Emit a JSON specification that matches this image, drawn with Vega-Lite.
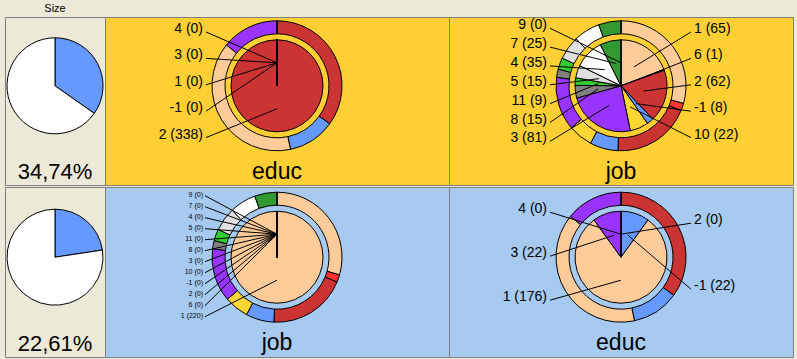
{
  "$schema": "https://vega.github.io/schema/vega-lite/v6.json",
  "background": "#ECE9D8",
  "padding": {"left": 4, "right": 5, "top": 0, "bottom": 2},
  "config": {"view": {"stroke": "#7F7F7F", "strokeWidth": 1}, "concat": {"spacing": 0}, "text": {"font": "Liberation Sans", "color": "black"}},
  "datasets": {
    "size": [
      {"cluster": 1, "part": "in", "ord": 0, "share": 34.74},
      {"cluster": 1, "part": "out", "ord": 1, "share": 65.26},
      {"cluster": 2, "part": "in", "ord": 0, "share": 22.61},
      {"cluster": 2, "part": "out", "ord": 1, "share": 77.39}
    ],
    "overall": [
      {"var": "educ", "cat": "2", "ord": 0, "n": 340},
      {"var": "educ", "cat": "-1", "ord": 1, "n": 114},
      {"var": "educ", "cat": "1", "ord": 2, "n": 381},
      {"var": "educ", "cat": "3", "ord": 3, "n": 138},
      {"var": "educ", "cat": "4", "ord": 4, "n": 0},
      {"var": "job", "cat": "1", "ord": 0, "n": 286},
      {"var": "job", "cat": "6", "ord": 1, "n": 18},
      {"var": "job", "cat": "2", "ord": 2, "n": 190},
      {"var": "job", "cat": "-1", "ord": 3, "n": 68},
      {"var": "job", "cat": "10", "ord": 4, "n": 59},
      {"var": "job", "cat": "3", "ord": 5, "n": 129},
      {"var": "job", "cat": "8", "ord": 6, "n": 20},
      {"var": "job", "cat": "11", "ord": 7, "n": 28},
      {"var": "job", "cat": "5", "ord": 8, "n": 57},
      {"var": "job", "cat": "4", "ord": 9, "n": 64},
      {"var": "job", "cat": "7", "ord": 10, "n": 54},
      {"var": "job", "cat": "9", "ord": 11, "n": 0}
    ],
    "cluster": [
      {"cluster": 1, "var": "educ", "cat": "2", "ord": 0, "n": 338},
      {"cluster": 1, "var": "educ", "cat": "-1", "ord": 1, "n": 0},
      {"cluster": 1, "var": "educ", "cat": "1", "ord": 2, "n": 0},
      {"cluster": 1, "var": "educ", "cat": "3", "ord": 3, "n": 0},
      {"cluster": 1, "var": "educ", "cat": "4", "ord": 4, "n": 0},
      {"cluster": 1, "var": "job", "cat": "1", "ord": 0, "n": 65},
      {"cluster": 1, "var": "job", "cat": "6", "ord": 1, "n": 1},
      {"cluster": 1, "var": "job", "cat": "2", "ord": 2, "n": 62},
      {"cluster": 1, "var": "job", "cat": "-1", "ord": 3, "n": 8},
      {"cluster": 1, "var": "job", "cat": "10", "ord": 4, "n": 22},
      {"cluster": 1, "var": "job", "cat": "3", "ord": 5, "n": 81},
      {"cluster": 1, "var": "job", "cat": "8", "ord": 6, "n": 15},
      {"cluster": 1, "var": "job", "cat": "11", "ord": 7, "n": 9},
      {"cluster": 1, "var": "job", "cat": "5", "ord": 8, "n": 15},
      {"cluster": 1, "var": "job", "cat": "4", "ord": 9, "n": 35},
      {"cluster": 1, "var": "job", "cat": "7", "ord": 10, "n": 25},
      {"cluster": 1, "var": "job", "cat": "9", "ord": 11, "n": 0},
      {"cluster": 2, "var": "educ", "cat": "2", "ord": 0, "n": 0},
      {"cluster": 2, "var": "educ", "cat": "-1", "ord": 1, "n": 22},
      {"cluster": 2, "var": "educ", "cat": "1", "ord": 2, "n": 176},
      {"cluster": 2, "var": "educ", "cat": "3", "ord": 3, "n": 22},
      {"cluster": 2, "var": "educ", "cat": "4", "ord": 4, "n": 0},
      {"cluster": 2, "var": "job", "cat": "1", "ord": 0, "n": 220},
      {"cluster": 2, "var": "job", "cat": "6", "ord": 1, "n": 0},
      {"cluster": 2, "var": "job", "cat": "2", "ord": 2, "n": 0},
      {"cluster": 2, "var": "job", "cat": "-1", "ord": 3, "n": 0},
      {"cluster": 2, "var": "job", "cat": "10", "ord": 4, "n": 0},
      {"cluster": 2, "var": "job", "cat": "3", "ord": 5, "n": 0},
      {"cluster": 2, "var": "job", "cat": "8", "ord": 6, "n": 0},
      {"cluster": 2, "var": "job", "cat": "11", "ord": 7, "n": 0},
      {"cluster": 2, "var": "job", "cat": "5", "ord": 8, "n": 0},
      {"cluster": 2, "var": "job", "cat": "4", "ord": 9, "n": 0},
      {"cluster": 2, "var": "job", "cat": "7", "ord": 10, "n": 0},
      {"cluster": 2, "var": "job", "cat": "9", "ord": 11, "n": 0}
    ]
  },
  "spacing": 0,
  "resolve": {"scale": {"x": "independent", "y": "independent", "color": "independent", "theta": "independent"}},
  "vconcat": [
    {
      "spacing": 0,
      "bounds": "flush",
      "hconcat": [
        {"width": 100, "height": 16, "view": {"fill": "#ECE9D8"}, "data": {"values": [{"h": "Size"}]}, "mark": {"type": "text", "fontSize": 11, "baseline": "middle", "dy": 1}, "encoding": {"text": {"field": "h"}}},
        {"width": 344, "height": 16, "view": {"fill": "#ECE9D8"}, "data": {"values": []}, "mark": "text", "encoding": {}},
        {"width": 344, "height": 16, "view": {"fill": "#ECE9D8"}, "data": {"values": []}, "mark": "text", "encoding": {}}
      ]
    },
    {
      "spacing": 0,
      "bounds": "flush",
      "resolve": {"scale": {"x": "independent", "y": "independent", "color": "independent", "theta": "independent"}},
      "hconcat": [
        {
          "width": 100, "height": 168, "view": {"fill": "#ECE9D8"},
          "data": {"name": "size"},
          "transform": [{"filter": "datum.cluster == 1"}],
          "layer": [
            {"mark": {"type": "arc", "radius": 48, "stroke": "black", "strokeWidth": 1},
             "encoding": {
               "theta": {"field": "share", "type": "quantitative", "stack": "normalize"},
               "order": {"field": "ord", "type": "quantitative"},
               "color": {"field": "part", "type": "nominal", "scale": {"domain": ["in", "out"], "range": ["#6699FF", "#FFFFFF"]}, "legend": null},
               "x": {"datum": 0, "type": "quantitative", "scale": {"domain": [-50, 50], "nice": false, "zero": false}, "axis": null},
               "y": {"datum": 0, "type": "quantitative", "scale": {"domain": [-99.2, 68.8], "nice": false, "zero": false}, "axis": null}
             }},
            {"transform": [{"filter": "datum.part == 'in'"}, {"calculate": "replace(format(datum.share, '.2f'), '.', ',') + '%'", "as": "pct"}],
             "mark": {"type": "text", "fontSize": 22, "baseline": "alphabetic", "dy": -6},
             "encoding": {
               "text": {"field": "pct"},
               "x": {"datum": 0, "type": "quantitative", "scale": {"domain": [-50, 50], "nice": false, "zero": false}, "axis": null},
               "y": {"value": "height"}
             }}
          ]
        },
        {
          "width": 344, "height": 168, "view": {"fill": "#FFCF33"},
          "layer": [
            {"data": {"name": "overall"}, "transform": [{"filter": "datum.var == 'educ'"}],
             "mark": {"type": "arc", "radius": 65, "radius2": 52, "stroke": "black", "strokeWidth": 1},
             "encoding": {
               "theta": {"field": "n", "type": "quantitative", "stack": "normalize"},
               "order": {"field": "ord", "type": "quantitative"},
               "color": {"field": "cat", "type": "nominal", "scale": {"domain": ["2", "-1", "1", "3", "4"], "range": ["#CC3333", "#6699FF", "#FFCC99", "#9933FF", "#33CC33"]}, "legend": null},
               "x": {"datum": 0, "type": "quantitative", "scale": {"domain": [-172, 172], "nice": false, "zero": false}, "axis": null},
               "y": {"datum": 0, "type": "quantitative", "scale": {"domain": [-99.2, 68.8], "nice": false, "zero": false}, "axis": null}
             }},
            {"data": {"name": "cluster"}, "transform": [{"filter": "datum.cluster == 1 && datum.var == 'educ'"}],
             "mark": {"type": "arc", "radius": 46, "stroke": "black", "strokeWidth": 1},
             "encoding": {
               "theta": {"field": "n", "type": "quantitative", "stack": "normalize"},
               "order": {"field": "ord", "type": "quantitative"},
               "color": {"field": "cat", "type": "nominal", "scale": {"domain": ["2", "-1", "1", "3", "4"], "range": ["#CC3333", "#6699FF", "#FFCC99", "#9933FF", "#33CC33"]}, "legend": null},
               "x": {"datum": 0, "type": "quantitative", "scale": {"domain": [-172, 172], "nice": false, "zero": false}, "axis": null},
               "y": {"datum": 0, "type": "quantitative", "scale": {"domain": [-99.2, 68.8], "nice": false, "zero": false}, "axis": null}
             }},
            {"data": {"name": "cluster"},
             "transform": [
               {"filter": "datum.cluster == 1 && datum.var == 'educ'"},
               {"joinaggregate": [{"op": "sum", "field": "n", "as": "total"}]},
               {"window": [{"op": "sum", "field": "n", "as": "cum"}], "sort": [{"field": "ord", "order": "ascending"}], "frame": [null, 0]},
               {"calculate": "(datum.cum - datum.n / 2) / datum.total", "as": "mid"},
               {"calculate": "23 * sin(2 * PI * datum.mid)", "as": "ax"},
               {"calculate": "23 * cos(2 * PI * datum.mid)", "as": "ay"},
               {"calculate": "datum.mid < 0.5 ? 'R' : 'L'", "as": "side"},
               {"calculate": "datum.side == 'R' ? datum.ord : -datum.ord", "as": "key"},
               {"window": [{"op": "row_number", "as": "rank"}], "sort": [{"field": "key", "order": "ascending"}], "groupby": ["side"]},
               {"joinaggregate": [{"op": "count", "as": "ns"}], "groupby": ["side"]},
               {"calculate": "67 - (datum.rank - 0.5) * 132 / datum.ns", "as": "ly"},
               {"calculate": "datum.side == 'R' ? 70 : -71", "as": "lx"},
               {"calculate": "datum.side == 'R' ? 73 : -74", "as": "tx"},
               {"calculate": "datum.cat + ' (' + datum.n + ')'", "as": "label"}
             ],
             "layer": [
               {"mark": {"type": "rule", "color": "black", "strokeWidth": 1},
                "encoding": {
                  "x": {"field": "lx", "type": "quantitative", "scale": {"domain": [-172, 172], "nice": false, "zero": false}, "axis": null},
                  "y": {"field": "ly", "type": "quantitative", "scale": {"domain": [-99.2, 68.8], "nice": false, "zero": false}, "axis": null},
                  "x2": {"field": "ax"},
                  "y2": {"field": "ay"}
                }},
               {"transform": [{"filter": "datum.side == 'R'"}],
                "mark": {"type": "text", "align": "left", "baseline": "middle", "dy": -3, "fontSize": 14},
                "encoding": {
                  "x": {"field": "tx", "type": "quantitative", "scale": {"domain": [-172, 172], "nice": false, "zero": false}, "axis": null},
                  "y": {"field": "ly", "type": "quantitative", "scale": {"domain": [-99.2, 68.8], "nice": false, "zero": false}, "axis": null},
                  "text": {"field": "label"}
                }},
               {"transform": [{"filter": "datum.side == 'L'"}],
                "mark": {"type": "text", "align": "right", "baseline": "middle", "dy": -3, "fontSize": 14},
                "encoding": {
                  "x": {"field": "tx", "type": "quantitative", "scale": {"domain": [-172, 172], "nice": false, "zero": false}, "axis": null},
                  "y": {"field": "ly", "type": "quantitative", "scale": {"domain": [-99.2, 68.8], "nice": false, "zero": false}, "axis": null},
                  "text": {"field": "label"}
                }}
             ]},
            {"data": {"values": [{"var": "educ"}]},
             "mark": {"type": "text", "fontSize": 23, "baseline": "alphabetic", "dy": -6},
             "encoding": {
               "text": {"field": "var"},
               "x": {"datum": 0, "type": "quantitative", "scale": {"domain": [-172, 172], "nice": false, "zero": false}, "axis": null},
               "y": {"value": "height"}
             }}
          ]
        },
        {
          "width": 344, "height": 168, "view": {"fill": "#FFCF33"},
          "layer": [
            {"data": {"name": "overall"}, "transform": [{"filter": "datum.var == 'job'"}],
             "mark": {"type": "arc", "radius": 65, "radius2": 52, "stroke": "black", "strokeWidth": 1},
             "encoding": {
               "theta": {"field": "n", "type": "quantitative", "stack": "normalize"},
               "order": {"field": "ord", "type": "quantitative"},
               "color": {"field": "cat", "type": "nominal", "scale": {"domain": ["1", "6", "2", "-1", "10", "3", "8", "11", "5", "4", "7", "9"], "range": ["#FFCC99", "#FF3333", "#CC3333", "#6699FF", "#FFD633", "#9933FF", "#808080", "#33CC33", "#E0E0E0", "#FFFFFF", "#339933", "#66CC66"]}, "legend": null},
               "x": {"datum": 0, "type": "quantitative", "scale": {"domain": [-172, 172], "nice": false, "zero": false}, "axis": null},
               "y": {"datum": 0, "type": "quantitative", "scale": {"domain": [-99.2, 68.8], "nice": false, "zero": false}, "axis": null}
             }},
            {"data": {"name": "cluster"}, "transform": [{"filter": "datum.cluster == 1 && datum.var == 'job'"}],
             "mark": {"type": "arc", "radius": 46, "stroke": "black", "strokeWidth": 1},
             "encoding": {
               "theta": {"field": "n", "type": "quantitative", "stack": "normalize"},
               "order": {"field": "ord", "type": "quantitative"},
               "color": {"field": "cat", "type": "nominal", "scale": {"domain": ["1", "6", "2", "-1", "10", "3", "8", "11", "5", "4", "7", "9"], "range": ["#FFCC99", "#FF3333", "#CC3333", "#6699FF", "#FFD633", "#9933FF", "#808080", "#33CC33", "#E0E0E0", "#FFFFFF", "#339933", "#66CC66"]}, "legend": null},
               "x": {"datum": 0, "type": "quantitative", "scale": {"domain": [-172, 172], "nice": false, "zero": false}, "axis": null},
               "y": {"datum": 0, "type": "quantitative", "scale": {"domain": [-99.2, 68.8], "nice": false, "zero": false}, "axis": null}
             }},
            {"data": {"name": "cluster"},
             "transform": [
               {"filter": "datum.cluster == 1 && datum.var == 'job'"},
               {"joinaggregate": [{"op": "sum", "field": "n", "as": "total"}]},
               {"window": [{"op": "sum", "field": "n", "as": "cum"}], "sort": [{"field": "ord", "order": "ascending"}], "frame": [null, 0]},
               {"calculate": "(datum.cum - datum.n / 2) / datum.total", "as": "mid"},
               {"calculate": "23 * sin(2 * PI * datum.mid)", "as": "ax"},
               {"calculate": "23 * cos(2 * PI * datum.mid)", "as": "ay"},
               {"calculate": "datum.mid < 0.5 ? 'R' : 'L'", "as": "side"},
               {"calculate": "datum.side == 'R' ? datum.ord : -datum.ord", "as": "key"},
               {"window": [{"op": "row_number", "as": "rank"}], "sort": [{"field": "key", "order": "ascending"}], "groupby": ["side"]},
               {"joinaggregate": [{"op": "count", "as": "ns"}], "groupby": ["side"]},
               {"calculate": "67 - (datum.rank - 0.5) * 132 / datum.ns", "as": "ly"},
               {"calculate": "datum.side == 'R' ? 70 : -71", "as": "lx"},
               {"calculate": "datum.side == 'R' ? 73 : -74", "as": "tx"},
               {"calculate": "datum.cat + ' (' + datum.n + ')'", "as": "label"}
             ],
             "layer": [
               {"mark": {"type": "rule", "color": "black", "strokeWidth": 1},
                "encoding": {
                  "x": {"field": "lx", "type": "quantitative", "scale": {"domain": [-172, 172], "nice": false, "zero": false}, "axis": null},
                  "y": {"field": "ly", "type": "quantitative", "scale": {"domain": [-99.2, 68.8], "nice": false, "zero": false}, "axis": null},
                  "x2": {"field": "ax"},
                  "y2": {"field": "ay"}
                }},
               {"transform": [{"filter": "datum.side == 'R'"}],
                "mark": {"type": "text", "align": "left", "baseline": "middle", "dy": -3, "fontSize": 14},
                "encoding": {
                  "x": {"field": "tx", "type": "quantitative", "scale": {"domain": [-172, 172], "nice": false, "zero": false}, "axis": null},
                  "y": {"field": "ly", "type": "quantitative", "scale": {"domain": [-99.2, 68.8], "nice": false, "zero": false}, "axis": null},
                  "text": {"field": "label"}
                }},
               {"transform": [{"filter": "datum.side == 'L'"}],
                "mark": {"type": "text", "align": "right", "baseline": "middle", "dy": -3, "fontSize": 14},
                "encoding": {
                  "x": {"field": "tx", "type": "quantitative", "scale": {"domain": [-172, 172], "nice": false, "zero": false}, "axis": null},
                  "y": {"field": "ly", "type": "quantitative", "scale": {"domain": [-99.2, 68.8], "nice": false, "zero": false}, "axis": null},
                  "text": {"field": "label"}
                }}
             ]},
            {"data": {"values": [{"var": "job"}]},
             "mark": {"type": "text", "fontSize": 23, "baseline": "alphabetic", "dy": -6},
             "encoding": {
               "text": {"field": "var"},
               "x": {"datum": 0, "type": "quantitative", "scale": {"domain": [-172, 172], "nice": false, "zero": false}, "axis": null},
               "y": {"value": "height"}
             }}
          ]
        }
      ]
    },
    {
      "spacing": 0,
      "bounds": "flush",
      "resolve": {"scale": {"x": "independent", "y": "independent", "color": "independent", "theta": "independent"}},
      "hconcat": [
        {
          "width": 100, "height": 170, "view": {"fill": "#ECE9D8"},
          "data": {"name": "size"},
          "transform": [{"filter": "datum.cluster == 2"}],
          "layer": [
            {"mark": {"type": "arc", "radius": 48, "stroke": "black", "strokeWidth": 1},
             "encoding": {
               "theta": {"field": "share", "type": "quantitative", "stack": "normalize"},
               "order": {"field": "ord", "type": "quantitative"},
               "color": {"field": "part", "type": "nominal", "scale": {"domain": ["in", "out"], "range": ["#6699FF", "#FFFFFF"]}, "legend": null},
               "x": {"datum": 0, "type": "quantitative", "scale": {"domain": [-50, 50], "nice": false, "zero": false}, "axis": null},
               "y": {"datum": 0, "type": "quantitative", "scale": {"domain": [-99.8, 70.2], "nice": false, "zero": false}, "axis": null}
             }},
            {"transform": [{"filter": "datum.part == 'in'"}, {"calculate": "replace(format(datum.share, '.2f'), '.', ',') + '%'", "as": "pct"}],
             "mark": {"type": "text", "fontSize": 22, "baseline": "alphabetic", "dy": -6},
             "encoding": {
               "text": {"field": "pct"},
               "x": {"datum": 0, "type": "quantitative", "scale": {"domain": [-50, 50], "nice": false, "zero": false}, "axis": null},
               "y": {"value": "height"}
             }}
          ]
        },
        {
          "width": 344, "height": 170, "view": {"fill": "#A6CAF0"},
          "layer": [
            {"data": {"name": "overall"}, "transform": [{"filter": "datum.var == 'job'"}],
             "mark": {"type": "arc", "radius": 65, "radius2": 52, "stroke": "black", "strokeWidth": 1},
             "encoding": {
               "theta": {"field": "n", "type": "quantitative", "stack": "normalize"},
               "order": {"field": "ord", "type": "quantitative"},
               "color": {"field": "cat", "type": "nominal", "scale": {"domain": ["1", "6", "2", "-1", "10", "3", "8", "11", "5", "4", "7", "9"], "range": ["#FFCC99", "#FF3333", "#CC3333", "#6699FF", "#FFD633", "#9933FF", "#808080", "#33CC33", "#E0E0E0", "#FFFFFF", "#339933", "#66CC66"]}, "legend": null},
               "x": {"datum": 0, "type": "quantitative", "scale": {"domain": [-172, 172], "nice": false, "zero": false}, "axis": null},
               "y": {"datum": 0, "type": "quantitative", "scale": {"domain": [-99.8, 70.2], "nice": false, "zero": false}, "axis": null}
             }},
            {"data": {"name": "cluster"}, "transform": [{"filter": "datum.cluster == 2 && datum.var == 'job'"}],
             "mark": {"type": "arc", "radius": 46, "stroke": "black", "strokeWidth": 1},
             "encoding": {
               "theta": {"field": "n", "type": "quantitative", "stack": "normalize"},
               "order": {"field": "ord", "type": "quantitative"},
               "color": {"field": "cat", "type": "nominal", "scale": {"domain": ["1", "6", "2", "-1", "10", "3", "8", "11", "5", "4", "7", "9"], "range": ["#FFCC99", "#FF3333", "#CC3333", "#6699FF", "#FFD633", "#9933FF", "#808080", "#33CC33", "#E0E0E0", "#FFFFFF", "#339933", "#66CC66"]}, "legend": null},
               "x": {"datum": 0, "type": "quantitative", "scale": {"domain": [-172, 172], "nice": false, "zero": false}, "axis": null},
               "y": {"datum": 0, "type": "quantitative", "scale": {"domain": [-99.8, 70.2], "nice": false, "zero": false}, "axis": null}
             }},
            {"data": {"name": "cluster"},
             "transform": [
               {"filter": "datum.cluster == 2 && datum.var == 'job'"},
               {"joinaggregate": [{"op": "sum", "field": "n", "as": "total"}]},
               {"window": [{"op": "sum", "field": "n", "as": "cum"}], "sort": [{"field": "ord", "order": "ascending"}], "frame": [null, 0]},
               {"calculate": "(datum.cum - datum.n / 2) / datum.total", "as": "mid"},
               {"calculate": "23 * sin(2 * PI * datum.mid)", "as": "ax"},
               {"calculate": "23 * cos(2 * PI * datum.mid)", "as": "ay"},
               {"calculate": "datum.mid < 0.5 ? 'R' : 'L'", "as": "side"},
               {"calculate": "datum.side == 'R' ? datum.ord : -datum.ord", "as": "key"},
               {"window": [{"op": "row_number", "as": "rank"}], "sort": [{"field": "key", "order": "ascending"}], "groupby": ["side"]},
               {"joinaggregate": [{"op": "count", "as": "ns"}], "groupby": ["side"]},
               {"calculate": "67 - (datum.rank - 0.5) * 132 / datum.ns", "as": "ly"},
               {"calculate": "datum.side == 'R' ? 70 : -72", "as": "lx"},
               {"calculate": "datum.side == 'R' ? 73 : -74", "as": "tx"},
               {"calculate": "datum.cat + ' (' + datum.n + ')'", "as": "label"}
             ],
             "layer": [
               {"mark": {"type": "rule", "color": "black", "strokeWidth": 1},
                "encoding": {
                  "x": {"field": "lx", "type": "quantitative", "scale": {"domain": [-172, 172], "nice": false, "zero": false}, "axis": null},
                  "y": {"field": "ly", "type": "quantitative", "scale": {"domain": [-99.8, 70.2], "nice": false, "zero": false}, "axis": null},
                  "x2": {"field": "ax"},
                  "y2": {"field": "ay"}
                }},
               {"transform": [{"filter": "datum.side == 'R'"}],
                "mark": {"type": "text", "align": "left", "baseline": "middle", "dy": -1, "fontSize": 7},
                "encoding": {
                  "x": {"field": "tx", "type": "quantitative", "scale": {"domain": [-172, 172], "nice": false, "zero": false}, "axis": null},
                  "y": {"field": "ly", "type": "quantitative", "scale": {"domain": [-99.8, 70.2], "nice": false, "zero": false}, "axis": null},
                  "text": {"field": "label"}
                }},
               {"transform": [{"filter": "datum.side == 'L'"}],
                "mark": {"type": "text", "align": "right", "baseline": "middle", "dy": -1, "fontSize": 7},
                "encoding": {
                  "x": {"field": "tx", "type": "quantitative", "scale": {"domain": [-172, 172], "nice": false, "zero": false}, "axis": null},
                  "y": {"field": "ly", "type": "quantitative", "scale": {"domain": [-99.8, 70.2], "nice": false, "zero": false}, "axis": null},
                  "text": {"field": "label"}
                }}
             ]},
            {"data": {"values": [{"var": "job"}]},
             "mark": {"type": "text", "fontSize": 23, "baseline": "alphabetic", "dy": -7},
             "encoding": {
               "text": {"field": "var"},
               "x": {"datum": 0, "type": "quantitative", "scale": {"domain": [-172, 172], "nice": false, "zero": false}, "axis": null},
               "y": {"value": "height"}
             }}
          ]
        },
        {
          "width": 344, "height": 170, "view": {"fill": "#A6CAF0"},
          "layer": [
            {"data": {"name": "overall"}, "transform": [{"filter": "datum.var == 'educ'"}],
             "mark": {"type": "arc", "radius": 65, "radius2": 52, "stroke": "black", "strokeWidth": 1},
             "encoding": {
               "theta": {"field": "n", "type": "quantitative", "stack": "normalize"},
               "order": {"field": "ord", "type": "quantitative"},
               "color": {"field": "cat", "type": "nominal", "scale": {"domain": ["2", "-1", "1", "3", "4"], "range": ["#CC3333", "#6699FF", "#FFCC99", "#9933FF", "#33CC33"]}, "legend": null},
               "x": {"datum": 0, "type": "quantitative", "scale": {"domain": [-172, 172], "nice": false, "zero": false}, "axis": null},
               "y": {"datum": 0, "type": "quantitative", "scale": {"domain": [-99.8, 70.2], "nice": false, "zero": false}, "axis": null}
             }},
            {"data": {"name": "cluster"}, "transform": [{"filter": "datum.cluster == 2 && datum.var == 'educ'"}],
             "mark": {"type": "arc", "radius": 46, "stroke": "black", "strokeWidth": 1},
             "encoding": {
               "theta": {"field": "n", "type": "quantitative", "stack": "normalize"},
               "order": {"field": "ord", "type": "quantitative"},
               "color": {"field": "cat", "type": "nominal", "scale": {"domain": ["2", "-1", "1", "3", "4"], "range": ["#CC3333", "#6699FF", "#FFCC99", "#9933FF", "#33CC33"]}, "legend": null},
               "x": {"datum": 0, "type": "quantitative", "scale": {"domain": [-172, 172], "nice": false, "zero": false}, "axis": null},
               "y": {"datum": 0, "type": "quantitative", "scale": {"domain": [-99.8, 70.2], "nice": false, "zero": false}, "axis": null}
             }},
            {"data": {"name": "cluster"},
             "transform": [
               {"filter": "datum.cluster == 2 && datum.var == 'educ'"},
               {"joinaggregate": [{"op": "sum", "field": "n", "as": "total"}]},
               {"window": [{"op": "sum", "field": "n", "as": "cum"}], "sort": [{"field": "ord", "order": "ascending"}], "frame": [null, 0]},
               {"calculate": "(datum.cum - datum.n / 2) / datum.total", "as": "mid"},
               {"calculate": "23 * sin(2 * PI * datum.mid)", "as": "ax"},
               {"calculate": "23 * cos(2 * PI * datum.mid)", "as": "ay"},
               {"calculate": "datum.mid < 0.5 ? 'R' : 'L'", "as": "side"},
               {"calculate": "datum.side == 'R' ? datum.ord : -datum.ord", "as": "key"},
               {"window": [{"op": "row_number", "as": "rank"}], "sort": [{"field": "key", "order": "ascending"}], "groupby": ["side"]},
               {"joinaggregate": [{"op": "count", "as": "ns"}], "groupby": ["side"]},
               {"calculate": "67 - (datum.rank - 0.5) * 132 / datum.ns", "as": "ly"},
               {"calculate": "datum.side == 'R' ? 70 : -71", "as": "lx"},
               {"calculate": "datum.side == 'R' ? 73 : -74", "as": "tx"},
               {"calculate": "datum.cat + ' (' + datum.n + ')'", "as": "label"}
             ],
             "layer": [
               {"mark": {"type": "rule", "color": "black", "strokeWidth": 1},
                "encoding": {
                  "x": {"field": "lx", "type": "quantitative", "scale": {"domain": [-172, 172], "nice": false, "zero": false}, "axis": null},
                  "y": {"field": "ly", "type": "quantitative", "scale": {"domain": [-99.8, 70.2], "nice": false, "zero": false}, "axis": null},
                  "x2": {"field": "ax"},
                  "y2": {"field": "ay"}
                }},
               {"transform": [{"filter": "datum.side == 'R'"}],
                "mark": {"type": "text", "align": "left", "baseline": "middle", "dy": -3, "fontSize": 14},
                "encoding": {
                  "x": {"field": "tx", "type": "quantitative", "scale": {"domain": [-172, 172], "nice": false, "zero": false}, "axis": null},
                  "y": {"field": "ly", "type": "quantitative", "scale": {"domain": [-99.8, 70.2], "nice": false, "zero": false}, "axis": null},
                  "text": {"field": "label"}
                }},
               {"transform": [{"filter": "datum.side == 'L'"}],
                "mark": {"type": "text", "align": "right", "baseline": "middle", "dy": -3, "fontSize": 14},
                "encoding": {
                  "x": {"field": "tx", "type": "quantitative", "scale": {"domain": [-172, 172], "nice": false, "zero": false}, "axis": null},
                  "y": {"field": "ly", "type": "quantitative", "scale": {"domain": [-99.8, 70.2], "nice": false, "zero": false}, "axis": null},
                  "text": {"field": "label"}
                }}
             ]},
            {"data": {"values": [{"var": "educ"}]},
             "mark": {"type": "text", "fontSize": 23, "baseline": "alphabetic", "dy": -7},
             "encoding": {
               "text": {"field": "var"},
               "x": {"datum": 0, "type": "quantitative", "scale": {"domain": [-172, 172], "nice": false, "zero": false}, "axis": null},
               "y": {"value": "height"}
             }}
          ]
        }
      ]
    }
  ]
}
